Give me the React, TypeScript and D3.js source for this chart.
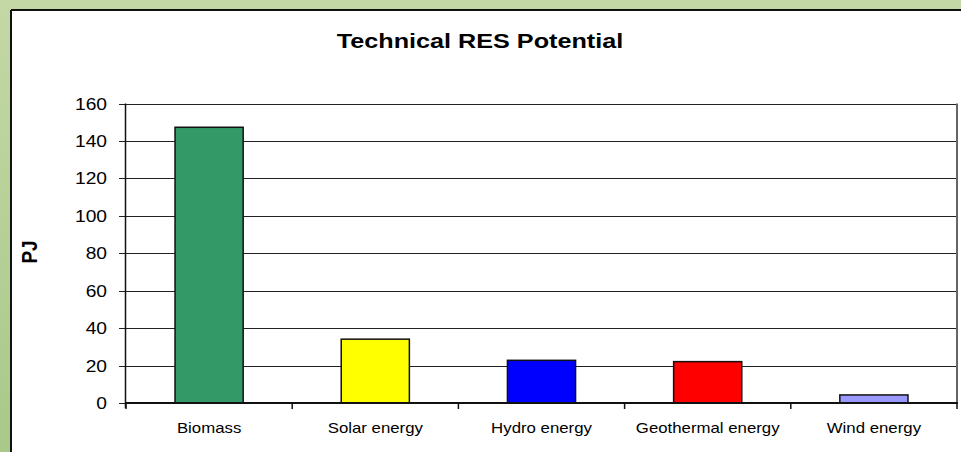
import * as d3 from 'd3'

const categories = ['Biomass', 'Solar energy', 'Hydro energy', 'Geothermal energy', 'Wind energy']
const values = [147.3, 34.1, 22.8, 22.1, 4.3]
const barColors = ['#339966', '#ffff00', '#0000ff', '#ff0000', '#9999ff']
const yTicks = [0, 20, 40, 60, 80, 100, 120, 140, 160]
const title = 'Technical RES Potential'
const yLabel = 'PJ'

const width = 961
const height = 452
const plotLeft = 126
const plotRight = 957
const plotTop = 103.5
const plotBottom = 403
const stretch = 1.2

export default function App() {
  const x = d3
    .scaleBand<string>()
    .domain(categories)
    .range([plotLeft, plotRight])
    .paddingInner(0.59)
    .paddingOuter(0.295)
  const step = x.step()
  const y = d3.scaleLinear([0, 160], [plotBottom, plotTop])
  const boundaries = d3.range(categories.length + 1).map((i) => plotLeft + i * step)
  const font = 'Arial, "Liberation Sans", sans-serif'

  return (
    <svg
      width={width}
      height={height}
      style={{ position: 'absolute', left: 0, top: 0, fontFamily: font }}
    >
      <defs>
        <linearGradient id="frame" x1="0" y1="0" x2="0" y2="1">
          <stop offset="0" stopColor="#c4d8a5" />
          <stop offset="1" stopColor="#a8c98a" />
        </linearGradient>
      </defs>
      <rect width={width} height={height} fill="url(#frame)" />
      <rect x={12} y={11} width={width - 12} height={height - 11} fill="#fff" />
      <line x1={11} y1={10} x2={width} y2={10} stroke="#111" strokeWidth={2} />
      <line x1={11} y1={10} x2={11} y2={height} stroke="#111" strokeWidth={2} />

      <text
        transform={`translate(480,48) scale(${stretch},1)`}
        textAnchor="middle"
        fontSize={21}
        fontWeight="bold"
      >
        {title}
      </text>

      <g stroke="#222" strokeWidth={1}>
        {yTicks.map((t) => (
          <line key={t} x1={plotLeft - 7} x2={plotRight} y1={Math.round(y(t)) + 0.5} y2={Math.round(y(t)) + 0.5} />
        ))}
      </g>
      <g fontSize={16} textAnchor="end">
        {yTicks.map((t) => (
          <text key={t} transform={`translate(107,${y(t) + 6}) scale(${stretch},1)`}>
            {t}
          </text>
        ))}
      </g>
      <text
        transform={`translate(37,252) scale(${stretch},1) rotate(-90)`}
        textAnchor="middle"
        fontSize={19}
        fontWeight="bold"
      >
        {yLabel}
      </text>

      <line x1={plotRight} x2={plotRight} y1={plotTop} y2={plotBottom} stroke="#666" strokeWidth={2} />

      {categories.map((c, i) => (
        <rect
          key={c}
          x={x(c)}
          y={y(values[i])}
          width={x.bandwidth()}
          height={plotBottom - y(values[i])}
          fill={barColors[i]}
          stroke="#111"
          strokeWidth={1.5}
        />
      ))}

      <line x1={plotLeft - 0.5} x2={plotLeft - 0.5} y1={plotTop} y2={plotBottom + 5} stroke="#111" strokeWidth={1.5} />
      <line x1={plotLeft} x2={plotRight + 1} y1={plotBottom} y2={plotBottom} stroke="#111" strokeWidth={2} />
      <g stroke="#111" strokeWidth={1.5}>
        {boundaries.map((b, i) => (
          <line key={i} x1={b} x2={b} y1={plotBottom} y2={plotBottom + 6} />
        ))}
      </g>
      <g fontSize={14} textAnchor="middle">
        {categories.map((c) => (
          <text key={c} transform={`translate(${x(c)! + x.bandwidth() / 2},433) scale(${stretch},1)`}>
            {c}
          </text>
        ))}
      </g>
    </svg>
  )
}
